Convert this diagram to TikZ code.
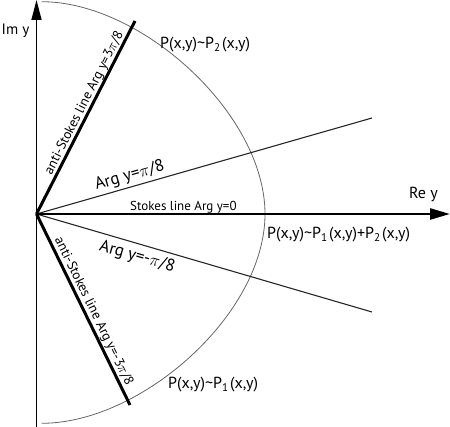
\documentclass[tikz,border=0pt]{standalone}
\usepackage{fontspec}
\setmainfont{PT Sans}
\usetikzlibrary{arrows.meta}
\newcommand{\subsp}[1]{P\textsubscript{#1}\hspace{1.5pt}}
\begin{document}
\begin{tikzpicture}[x=1pt,y=-1pt,
  axisv/.style={line width=1.5pt,-{Triangle[length=20pt,width=10pt]}},
  axish/.style={line width=2.5pt,-{Triangle[length=20pt,width=11pt]}},
  antistokes/.style={line width=3pt},
  argline/.style={line width=1.1pt,black!85},
  arcline/.style={line width=0.8pt,black!60},
  lbl/.style={inner sep=0pt,font=\fontsize{#1}{#1}\selectfont},
  lbl/.default=13]
\useasboundingbox (0,0) rectangle (450,427);
\coordinate (O) at (36.5,214);
\coordinate (Vb) at (36.5,427);
\coordinate (Vt) at (36.5,0);
\coordinate (Hr) at (450,214);
\coordinate (A3) at (135,21);
\coordinate (B3) at (130,405);
\coordinate (A1) at (372,118);
\coordinate (B1) at (372,312);
\coordinate (Ct) at (41.7,1.7);
\coordinate (Cm) at (265,214);
\coordinate (Cb) at (41.7,423.3);
% arc
\draw[arcline] (Ct) .. controls (141.7,1.7) and (265,114) .. (Cm)
  .. controls (265,314) and (141.7,423.3) .. (Cb);
% lines
\draw[argline] (O) -- (A1);
\draw[argline] (O) -- (B1);
\draw[antistokes] (O) -- (A3);
\draw[antistokes] (O) -- (B3);
\draw[axisv] (Vb) -- (Vt);
\draw[axish] (O) -- (Hr);
% labels
\node[lbl=15,anchor=base west] (im) at (1.5,34.5) {Im y};
\node[lbl=16,anchor=base west] (re) at (409,199) {Re y};
\node[lbl=13,anchor=base west] (stokes) at (130,211) {Stokes line Arg y=0};
\node[lbl=16,anchor=base west] (p2) at (160,48.5) {P(x,y)\textasciitilde\subsp{2}(x,y)};
\node[lbl=16,anchor=base west] (p12) at (267,239) {P(x,y)\textasciitilde\subsp{1}(x,y)+\subsp{2}(x,y)};
\node[lbl=16,anchor=base west] (p1) at (168,388.5) {P(x,y)\textasciitilde\subsp{1}(x,y)};
\node[lbl=17,anchor=base,rotate=16] (a1) at (131,180) {Arg y=$\pi$/8};
\node[lbl=17,anchor=base,rotate=-16] (b1) at (136,261) {Arg y=-$\pi$/8};
\node[lbl=13.5,anchor=base,rotate=63] (a3) at (87.5,104.5) {anti-Stokes line Arg y=3$\pi$/8};
\node[lbl=13.5,anchor=base,rotate=-64] (b3) at (90.5,313) {anti-Stokes line Arg y=-3$\pi$/8};
\end{tikzpicture}
\end{document}
